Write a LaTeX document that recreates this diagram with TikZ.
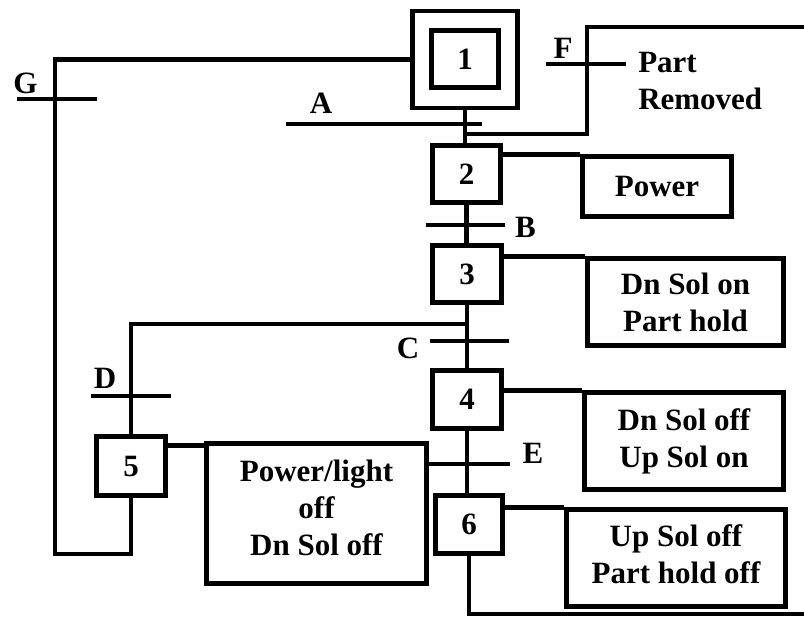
\documentclass[tikz,border=0pt]{standalone}
\usepackage{fontspec}
\setmainfont{Liberation Serif}
\begin{document}
\begin{tikzpicture}[x=1pt,y=-1pt,line width=4.5pt,
  every node/.style={font=\fontsize{31}{37}\selectfont\bfseries,inner sep=0pt},
  box/.style={draw,line width=4.5pt,align=center},
  bar/.style={line width=4.5pt}]
\useasboundingbox (0,0) rectangle (804,618);
% steps
\node[box,minimum width=105pt,minimum height=97pt] (s1o) at (465,59.5) {};
\node[box,minimum width=67pt,minimum height=57pt] (s1i) at (465,59) {1};
\node[box,minimum width=68pt,minimum height=57pt] (s2) at (466.5,174) {2};
\node[box,minimum width=69pt,minimum height=57pt] (s3) at (467,274) {3};
\node[box,minimum width=69pt,minimum height=58pt] (s4) at (467,399.5) {4};
\node[box,minimum width=69pt,minimum height=59pt] (s5) at (131,466) {5};
\node[box,minimum width=67pt,minimum height=58pt] (s6) at (469,524.5) {6};
% actions
\node[box,minimum width=149pt,minimum height=60pt] (a2) at (657,186.5) {Power};
\node[box,minimum width=196pt,minimum height=87pt] (a3) at (685.5,302) {Dn Sol on\\Part hold};
\node[box,minimum width=199pt,minimum height=97pt] (a4) at (684,441) {Dn Sol off\\Up Sol on};
\node[box,minimum width=220pt,minimum height=140pt] (a5) at (316.5,513.5) {};
\node[align=center] (a5t) at ([yshift=6pt]a5.center) {Power/light\\off\\Dn Sol off};
\node[box,minimum width=219pt,minimum height=97pt] (a6) at (676,558) {};
\node[align=center] (a6t) at ([yshift=4pt]a6.center) {Up Sol off\\Part hold off};
% labels
\node (lG) at (25.5,83) {G};
\node (lA) at (321,103.5) {A};
\node (lF) at (563,48) {F};
\node[align=left,anchor=west] (pr) at (636,81.5) {Part\\Removed};
\node (lB) at (525.5,227) {B};
\node (lC) at (408,348) {C};
\node (lD) at (105,378) {D};
\node (lE) at (533,453) {E};
% coordinates
\coordinate (gc) at (55,554);
\coordinate (fj) at (465,134);
\coordinate (fc) at (587,27);
\coordinate (fr) at (804,27);
\coordinate (cj) at (467,324);
\coordinate (br) at (804,614);
\coordinate (p5) at ([yshift=-4pt]a5.north west);
% main chain
\draw (s1o.south) -- (s1o.south |- s2.north);
\draw (s2.south) -- (s2.south |- s3.north);
\draw (s3.south) -- (s3.south |- s4.north);
\draw (s4.south) -- (s4.south |- s6.north);
\draw (s6.south) |- (br);
\draw (fj) -| (fc) -- (fr);
\draw (cj) -| (s5.north);
\draw (s1o.west) -| (gc) -| (s5.south);
% action links
\draw (s2.east |- a2.north west) -- (a2.north west);
\draw (s3.east |- a3.north west) -- (a3.north west);
\draw (s4.east |- a4.north west) -- (a4.north west);
\draw (s6.east |- a6.north west) -- (a6.north west);
\draw (s5.east |- p5) -- (p5);
% transition bars
\draw[bar] (17,99) -- (97,99);
\draw[bar] (286,124) -- (482,124);
\draw[bar] (546,64) -- (626,64);
\draw[bar] (426,225) -- (505,225);
\draw[bar] (430,341) -- (509,341);
\draw[bar] (91,396) -- (171,396);
\draw[bar] (429,464) -- (510,464);
\end{tikzpicture}
\end{document}
